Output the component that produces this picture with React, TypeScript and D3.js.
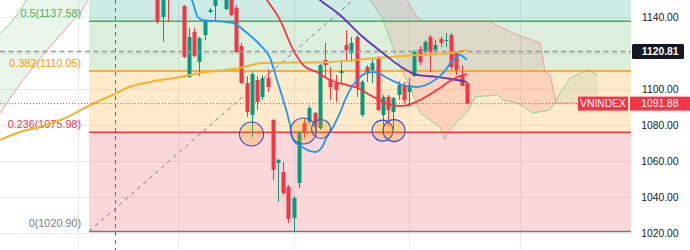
import React from "react";
import * as d3 from "d3";

// ---------------- data ----------------
// daily candles (index 0..59)
const candleOpen = [1155, 1140, 1158, 1156, 1160, 1146.1, 1106.7, 1131.7, 1115, 1130, 1142.8, 1146.1, 1152, 1144.4, 1151, 1145, 1123.9, 1103.3, 1085.6, 1105, 1095.6, 1106.1, 1082.8, 1058.9, 1053.9, 1045.6, 1028.3, 1047.8, 1081.1, 1081.7, 1086.7, 1078.3, 1116.1, 1105.6, 1103.3, 1108.9, 1124.4, 1120, 1128.9, 1085.6, 1112.2, 1110.6, 1117.8, 1085.6, 1095.6, 1087.2, 1096.7, 1101.7, 1098.3, 1107.2, 1122.2, 1120.6, 1128.9, 1121.7, 1127.8, 1126.7, 1130, 1120, 1107.8, 1103.3];
const candleHigh = [1157.8, 1155, 1160, 1162, 1163, 1146.7, 1133.9, 1133.9, 1128.9, 1138.3, 1145, 1152, 1160, 1153, 1152, 1146.7, 1125.6, 1107.2, 1109.4, 1107.2, 1107.8, 1111.1, 1083.3, 1061.1, 1059.4, 1046.7, 1040.6, 1076.7, 1083.9, 1090.6, 1087.2, 1113.9, 1125.6, 1112.2, 1107.8, 1115.6, 1132.8, 1128.9, 1130, 1105, 1113.3, 1117.2, 1118.3, 1096.7, 1096.7, 1095.6, 1104.4, 1103.9, 1106.1, 1121.7, 1123.9, 1127.2, 1130, 1127.2, 1128.9, 1131.1, 1131.1, 1120.6, 1113.3, 1103.9];
const candleLow = [1136.1, 1126.1, 1137.2, 1151, 1152, 1117.2, 1106.1, 1117.8, 1107.2, 1127.2, 1142.2, 1138.3, 1150, 1143.9, 1140.6, 1120, 1102.8, 1084.4, 1073.3, 1088.3, 1093.9, 1098.3, 1049.4, 1037.2, 1041.1, 1025.6, 1020.9, 1045, 1072.8, 1080.6, 1074.4, 1077.2, 1106.7, 1093.9, 1092.8, 1103.3, 1116.1, 1115, 1095.6, 1084.4, 1103.9, 1103.3, 1087.8, 1077.2, 1079.4, 1077.2, 1093.9, 1092.2, 1090, 1106.7, 1113.3, 1118.9, 1109.4, 1120, 1123.3, 1123.3, 1110.6, 1107.8, 1101.7, 1091.5];
const candleClose = [1137.2, 1152.2, 1152, 1160, 1154, 1117.8, 1128.9, 1118.3, 1128.3, 1137.2, 1143.9, 1151.1, 1158, 1151, 1141.1, 1120.6, 1103.3, 1087.2, 1108.3, 1092.8, 1106.1, 1101.1, 1055, 1060.6, 1042.2, 1027.8, 1039.4, 1076.1, 1075.6, 1089.4, 1078.9, 1113.3, 1113.3, 1101.1, 1099.4, 1110, 1121.7, 1125.6, 1101.1, 1103.9, 1109.4, 1114.4, 1088.3, 1095.6, 1088.3, 1095, 1102.2, 1093.9, 1102.2, 1120.6, 1115, 1126.1, 1120.6, 1124.4, 1125.6, 1127.2, 1112.2, 1110.6, 1101.7, 1091.88];

// moving averages: [candle index, price]
const maOrange: [number, number][] = [[-30, 1071.7], [-26.2, 1076.1], [-22.4, 1078.9], [-17.2, 1084.4], [-12.8, 1091.1], [-7.7, 1097.8], [-5.8, 1100.6], [-1.4, 1103.9], [4.3, 1106.7], [8.1, 1108.9], [15.8, 1111.7], [20.1, 1114.4], [32.9, 1115], [41.9, 1117.2], [49.5, 1118.9], [55.8, 1120], [59, 1121.7]];
const maBlue: [number, number][] = [[3, 1162], [6.6, 1149.4], [7.7, 1140], [8.7, 1138.3], [13.3, 1137.2], [14.4, 1136.7], [17.1, 1131.1], [19.6, 1124.4], [21.5, 1117.2], [22.8, 1105], [24, 1093.9], [25.3, 1080], [25.9, 1071.7], [27.6, 1067.8], [30.1, 1065], [31.4, 1067.8], [32.3, 1073.3], [33.5, 1078.9], [34.8, 1086.7], [35.8, 1093.9], [36.7, 1099.4], [38.1, 1105], [40, 1108.9], [41.5, 1109.4], [43.8, 1106.1], [46.8, 1102.2], [49.5, 1101.1], [52, 1103.3], [54.5, 1108.9], [56.4, 1116.1], [57.7, 1118.9], [59, 1116.1]];
const maPurple: [number, number][] = [[25, 1165], [31, 1149.4], [34.8, 1141.1], [39.2, 1128.9], [43, 1120], [46.8, 1111.7], [49.5, 1107.8], [53.3, 1106.7], [57.1, 1105], [59, 1103.9]];
const maRed: [number, number][] = [[16, 1170], [20.9, 1149.4], [23.4, 1138.3], [25.9, 1121.7], [27.8, 1113.3], [30.4, 1109.4], [32.9, 1105], [36.2, 1102.2], [38.1, 1100.6], [40.5, 1096.7], [42.4, 1093.9], [44.4, 1091.1], [46.8, 1090.6], [50.1, 1093.9], [53.3, 1099.4], [55.8, 1104.4], [58.3, 1107.8], [59, 1108.3]];

// Ichimoku leading spans: [candle index, price]
const spanA: [number, number][] = [[-30, 1131.1], [-28.7, 1134.4], [-26.8, 1141.1], [-24.9, 1149.4], [-20, 1165], [0, 1185], [20, 1180], [35, 1165], [40.5, 1149.4], [42.8, 1140], [46.3, 1112.2], [48.2, 1101.1], [49.1, 1093.9], [50.1, 1086.7], [53.9, 1078.9], [54.8, 1071.7], [55.4, 1075.6], [57.1, 1081.7], [59, 1086.7], [60.6, 1095.6], [64.8, 1096.7], [65.9, 1093.9], [68.6, 1092.2], [71.6, 1086.7], [74.9, 1088.3], [76.8, 1097.8], [78.7, 1106.1], [81.9, 1110.6], [84, 1107.8]];
const spanB: [number, number][] = [[-30, 1086.7], [-26.6, 1101.1], [-23.7, 1112.2], [-20.5, 1123.3], [-17.2, 1134.4], [-14.7, 1142.2], [-13.2, 1149.4], [-5, 1170], [10, 1180], [30, 1190], [44, 1165], [47.6, 1149.4], [49.5, 1140], [50.5, 1137.8], [63, 1137.8], [67.8, 1131.1], [73, 1125.6], [73.9, 1109.4], [74.9, 1107.8], [76, 1092.2], [84, 1092.2]];

// Fibonacci retracement
const fibRatios = [0, 0.236, 0.382, 0.5, 0.618];
const fibPrices = [1020.9, 1075.98, 1110.05, 1137.58, 1165.11];
const fibStartIndex = -13.03;
const fibTrendEnd: [number, number] = [78.4, 1254.3];

// highlighted lows: [candle index, price]
const circleCenters: [number, number][] = [[17.95, 1075], [27.86, 1076.7], [31.2, 1077.8], [42.93, 1076.9], [45.12, 1076.9]];

const priceTicks = [1020, 1040, 1060, 1080, 1100, 1120, 1140];
const timeGridIndex = [-15.1, 3.9, 26.05, 48, 69.1];
const lastPrice = 1091.88;
const crosshairPrice = 1120.81;
const crosshairIndex = -8.07;
const symbol = "VNINDEX";

// ---------------- styles ----------------
const FIB_COLORS = ["#787b86", "#f23645", "#ff9800", "#4caf50", "#089981"];
const CIRCLE_RADII = [12, 13, 9.5, 10.5, 11];
const UP = "#089981";
const DOWN = "#f23645";
const FONT = "'Liberation Sans', Arial, sans-serif";

export default function App() {
  const W = 690, H = 250, PR = 631;
  const x = d3.scaleLinear().domain([-30, 90.3]).range([0, PR]);
  const y = d3.scaleLinear().domain([1020, 1140]).range([233, 17]);

  const smooth = d3.line<[number, number]>().x(d => x(d[0])).y(d => y(d[1])).curve(d3.curveMonotoneX);
  const straight = d3.line<[number, number]>().x(d => x(d[0])).y(d => y(d[1]));

  const poly = (pts: [number, number][], edge: number) =>
    straight(pts) + `L${x(pts[pts.length - 1][0])},${edge}L${x(pts[0][0])},${edge}Z`;

  const fx0 = x(fibStartIndex);

  return (
    <svg width={W} height={H} style={{ position: "absolute", left: 0, top: 0, background: "#fff" }} fontFamily={FONT}>
      <defs>
        <clipPath id="plot"><rect x={0} y={0} width={PR} height={H} /></clipPath>
        <clipPath id="belowA"><path d={poly(spanA, 600)} /></clipPath>
        <clipPath id="aboveA"><path d={poly(spanA, -600)} /></clipPath>
        <clipPath id="belowB"><path d={poly(spanB, 600)} /></clipPath>
        <clipPath id="aboveB"><path d={poly(spanB, -600)} /></clipPath>
      </defs>
      <rect x={0} y={0} width={W} height={H} fill="#fff" />
      <g clipPath="url(#plot)">
        {/* grid */}
        {priceTicks.map(t => (
          <line key={"h" + t} x1={0} x2={PR} y1={Math.round(y(t)) + 0.5} y2={Math.round(y(t)) + 0.5} stroke="#e9ebf0" />
        ))}
        {timeGridIndex.map(t => (
          <line key={"v" + t} x1={Math.round(x(t)) + 0.5} x2={Math.round(x(t)) + 0.5} y1={0} y2={H} stroke="#e9ebf0" />
        ))}
        {/* fib zones */}
        {fibPrices.slice(1).map((p, k) => (
          <rect key={"fz" + k} x={fx0} width={PR - fx0} y={k === 3 ? -50 : y(p)} height={(k === 3 ? y(fibPrices[k]) + 50 : y(fibPrices[k]) - y(p))} fill={FIB_COLORS[k + 1]} fillOpacity={0.2} />
        ))}
        {/* kumo */}
        <g clipPath="url(#belowA)"><rect x={0} y={-50} width={PR} height={400} fill="#4caf50" fillOpacity={0.12} clipPath="url(#aboveB)" /></g>
        <g clipPath="url(#belowB)"><rect x={0} y={-50} width={PR} height={400} fill="#f23645" fillOpacity={0.12} clipPath="url(#aboveA)" /></g>
        <path d={straight(spanA) || ""} fill="none" stroke="#94cf96" strokeWidth={1} />
        <path d={straight(spanB) || ""} fill="none" stroke="#f19aa1" strokeWidth={1} />
        {/* fib lines */}
        {fibPrices.map((p, k) => (
          <line key={"fl" + k} x1={fx0} x2={PR} y1={y(p)} y2={y(p)} stroke={FIB_COLORS[k]} strokeWidth={1.5} />
        ))}
        <line x1={fx0} y1={y(fibPrices[0])} x2={x(fibTrendEnd[0])} y2={y(fibTrendEnd[1])} stroke="#787b86" strokeWidth={1} strokeDasharray="4,4" />
        {fibPrices.map((p, k) => (y(p) - 4 > 12 ? (
          <text key={"ft" + k} x={fx0 - 8} y={y(p) - 4} textAnchor="end" fontSize={10.8} fill={FIB_COLORS[k]}>
            {`${fibRatios[k]}(${p.toFixed(2)})`}
          </text>
        ) : null))}
        {/* candles */}
        {candleOpen.map((o, i) => {
          const c = candleClose[i];
          const col = c >= o ? UP : DOWN;
          const cx = Math.round(x(i));
          const top = y(Math.max(o, c));
          const bot = y(Math.min(o, c));
          return (
            <g key={"c" + i}>
              <line x1={cx + 0.5} x2={cx + 0.5} y1={y(candleHigh[i])} y2={y(candleLow[i])} stroke={col} strokeWidth={1} />
              <rect x={cx - 1.5} width={4} y={top} height={Math.max(1, bot - top)} fill={col} />
            </g>
          );
        })}
        {/* moving averages */}
        <path d={smooth(maOrange) || ""} fill="none" stroke="#f8b12c" strokeWidth={2} />
        <path d={smooth(maPurple) || ""} fill="none" stroke="#5e35b1" strokeWidth={1.8} />
        <path d={smooth(maRed) || ""} fill="none" stroke="#f23645" strokeWidth={1.8} />
        <path d={smooth(maBlue) || ""} fill="none" stroke="#2196f3" strokeWidth={1.8} />
        {/* circles */}
        {circleCenters.map((c, k) => (
          <circle key={"ci" + k} cx={x(c[0])} cy={y(c[1])} r={CIRCLE_RADII[k]} fill="#ff9800" fillOpacity={0.25} stroke="#3150d4" strokeWidth={1.1} />
        ))}
        {/* last price line & crosshair */}
        <line x1={0} x2={PR} y1={y(lastPrice)} y2={y(lastPrice)} stroke="#f23645" strokeWidth={1} strokeDasharray="1,2" />
        <line x1={0} x2={PR} y1={y(crosshairPrice)} y2={y(crosshairPrice)} stroke="#9598a1" strokeWidth={1.5} strokeDasharray="5,3.5" />
        <line x1={Math.round(x(crosshairIndex)) + 0.5} x2={Math.round(x(crosshairIndex)) + 0.5} y1={0} y2={H} stroke="#6a6d78" strokeWidth={1} strokeDasharray="4,4" />
      </g>
      {/* price axis */}
      <rect x={PR} y={0} width={W - PR} height={H} fill="#fff" />
      {priceTicks.map(t => (
        <text key={"pt" + t} x={678.5} y={y(t)} dy="0.35em" textAnchor="end" fontSize={10.3} fill="#131722">
          {t.toFixed(2)}
        </text>
      ))}
      <rect x={632} y={y(crosshairPrice) - 7.5} width={52} height={15} rx={1.5} fill="#131722" />
      <text x={678.5} y={y(crosshairPrice)} dy="0.35em" textAnchor="end" fontSize={10.3} fill="#fff" fontWeight="bold">
        {crosshairPrice.toFixed(2)}
      </text>
      <rect x={630} y={y(lastPrice) - 7} width={60} height={14} fill="#f23645" />
      <text x={678.5} y={y(lastPrice)} dy="0.35em" textAnchor="end" fontSize={10.3} fill="#fff">
        {lastPrice.toFixed(2)}
      </text>
      <rect x={578} y={y(lastPrice) - 7} width={50} height={14} fill="#f23645" />
      <text x={603} y={y(lastPrice)} dy="0.35em" textAnchor="middle" fontSize={10.3} fill="#fff">
        {symbol}
      </text>
    </svg>
  );
}
